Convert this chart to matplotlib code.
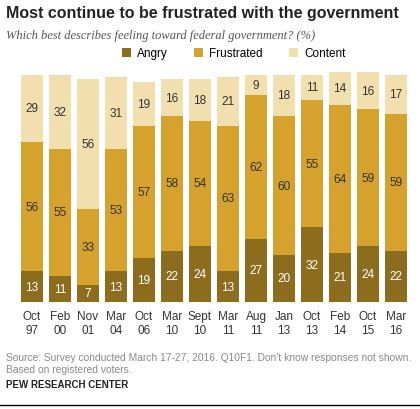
import matplotlib.pyplot as plt
import numpy as np

labels = ["Oct\n97", "Feb\n00", "Nov\n01", "Mar\n04", "Oct\n06", "Mar\n10", "Sept\n10",
          "Mar\n11", "Aug\n11", "Jan\n13", "Oct\n13", "Feb\n14", "Oct\n15", "Mar\n16"]
angry = [13, 11, 7, 13, 19, 22, 24, 13, 27, 20, 32, 21, 24, 22]
frustrated = [56, 55, 33, 53, 57, 58, 54, 63, 62, 60, 55, 64, 59, 59]
content = [29, 32, 56, 31, 19, 16, 18, 21, 9, 18, 11, 14, 16, 17]

c_angry = "#8c6d1e"
c_frus = "#d5a32d"
c_cont = "#f1e0ae"

plt.rcParams['font.family'] = ['Liberation Sans', 'DejaVu Sans']
fig = plt.figure(figsize=(4.2, 4.1), dpi=100)
ax = fig.add_axes([0.043, 0.262, 0.933, 0.565])

x = np.arange(len(labels))
a = np.array(angry)
f = np.array(frustrated)
c = np.array(content)
w = 0.8
ax.bar(x, a, w, color=c_angry, label="Angry")
ax.bar(x, f, w, bottom=a, color=c_frus, label="Frustrated")
ax.bar(x, c, w, bottom=a + f, color=c_cont, label="Content")
for i in x:
    ax.text(i, a[i] / 2, str(a[i]), ha='center', va='center', color='white', fontsize=8.5)
    ax.text(i, a[i] + f[i] / 2, str(f[i]), ha='center', va='center', color='#333333', fontsize=8.5)
    ax.text(i, a[i] + f[i] + c[i] / 2, str(c[i]), ha='center', va='center', color='#333333', fontsize=8.5)

ax.set_xlim(-0.5, len(labels) - 0.5)
ax.set_ylim(0, 100)
ax.set_xticks(x)
ax.set_xticklabels(labels, fontsize=8.5, color='#333333')
ax.tick_params(length=0, pad=6)
ax.set_yticks([])
for s in ax.spines.values():
    s.set_visible(False)

leg = ax.legend(loc='lower center', bbox_to_anchor=(0.55, 1.0), ncol=3, frameon=False,
                fontsize=8.5, handlelength=0.8, handleheight=0.8, columnspacing=2.2,
                handletextpad=0.5)

fig.text(0.015, 0.955, "Most continue to be frustrated with the government",
         fontsize=11.5, fontweight='bold', color='#222222')
fig.text(0.015, 0.905, "Which best describes feeling toward federal government? (%)",
         fontsize=9, style='italic', color='#555555', family='Liberation Serif')
fig.text(0.015, 0.14, "Source: Survey conducted March 17-27, 2016. Q10F1. Don't know responses not shown.\nBased on registered voters.",
         fontsize=7.4, color='#888888', va='top', linespacing=1.35)
fig.text(0.015, 0.072, "PEW RESEARCH CENTER", fontsize=7, fontweight='bold', color='#222222', va='top')
fig.add_artist(plt.Line2D([0, 1], [0.01, 0.01], color='black', lw=1))

fig.savefig("out.png", dpi=100)
